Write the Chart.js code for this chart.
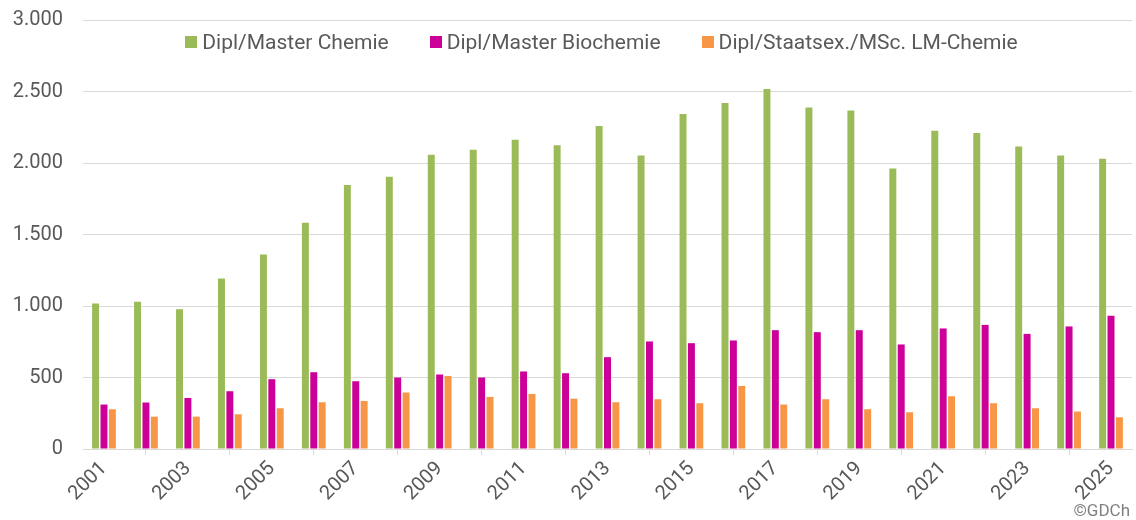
<!DOCTYPE html>
<html lang="de">
<head>
<meta charset="utf-8">
<title>Absolventen Chemie</title>
<script src="https://cdn.jsdelivr.net/npm/chart.js@4/dist/chart.umd.min.js"></script>
<style>
  html, body { margin: 0; padding: 0; background: #fff; }
  body { font-family: Roboto, "Noto Sans", sans-serif; color: #595959; }
  .wrap { position: relative; width: 1136px; height: 520px; }
  .legend {
    position: absolute; top: 29px; left: 77px; width: 1049px;
    display: flex; justify-content: center; gap: 41px;
    font-size: 21px; line-height: 26px; pointer-events: none;
  }
  .legend span.item { display: flex; align-items: center; white-space: nowrap; }
  .legend i { display: inline-block; width: 12px; height: 12px; margin-right: 5px; }
  .copy { position: absolute; right: 6px; bottom: 1px; font-size: 17px; line-height: 17px; color: #808080; }
</style>
</head>
<body>
<div class="wrap">
  <canvas id="chart"></canvas>
  <div class="legend" id="legend"></div>
  <div class="copy">©GDCh</div>
</div>
<script>
/* ---------- data ---------- */
const years = [
  '2001','2002','2003','2004','2005','2006','2007','2008','2009','2010',
  '2011','2012','2013','2014','2015','2016','2017','2018','2019','2020',
  '2021','2022','2023','2024','2025'
];

const chemie = [
  1018, 1030, 978, 1193, 1361, 1583, 1847, 1903, 2057, 2092,
  2162, 2124, 2258, 2052, 2342, 2419, 2517, 2388, 2367, 1961,
  2225, 2209, 2115, 2052, 2029
];

const biochemie = [
  311, 325, 357, 404, 488, 537, 474, 500, 521, 500,
  542, 530, 642, 752, 740, 759, 831, 817, 831, 731,
  843, 868, 805, 857, 932
];

const lmChemie = [
  278, 226, 226, 243, 285, 327, 336, 395, 511, 364,
  385, 352, 327, 348, 320, 441, 311, 348, 278, 257,
  369, 320, 285, 262, 222
];

const seriesNames = ['Dipl/Master Chemie', 'Dipl/Master Biochemie', 'Dipl/Staatsex./MSc. LM-Chemie'];
const seriesColors = ['#9BBB59', '#CC0099', '#F79646'];
const yTicks = [0, 500, 1000, 1500, 2000, 2500, 3000];

// German thousands separator
const fmt = v => String(v).replace(/\B(?=(\d{3})+(?!\d))/g, '.');

const TEXT = '#595959';
const GRID = '#D9D9D9';
const FONT = { family: 'Roboto', size: 20 };

const ctx = document.getElementById('chart').getContext('2d');
const chart = new Chart(ctx, {
  type: 'bar',
  data: {
    labels: years,
    datasets: [chemie, biochemie, lmChemie].map((d, i) => ({
      label: seriesNames[i],
      data: d,
      backgroundColor: seriesColors[i],
      borderWidth: 0,
      categoryPercentage: 0.6,
      barPercentage: 0.83,
    }))
  },
  options: {
    responsive: true,
    maintainAspectRatio: false,
    animation: false,
    layout: { padding: { top: 20, right: 4, left: 10, bottom: 8 } },
    plugins: {
      legend: { display: false },
      tooltip: { enabled: false }
    },
    scales: {
      x: {
        offset: true,
        grid: {
          offset: true,
          drawOnChartArea: false,
          drawTicks: true,
          tickLength: 6,
          color: GRID,
        },
        border: { color: GRID },
        // fixed axis box; rotated labels may hang past the plot edges
        afterFit: axis => {
          axis.height = 63;
          axis.paddingLeft = 0;
          axis.paddingRight = 0;
        },
        ticks: {
          autoSkip: false,
          maxRotation: 45,
          minRotation: 45,
          color: TEXT,
          font: FONT,
          padding: 2,
          callback: (v, i) => (i % 2 === 0 ? years[i] : null)
        }
      },
      y: {
        min: yTicks[0],
        max: yTicks[yTicks.length - 1],
        afterBuildTicks: axis => { axis.ticks = yTicks.map(v => ({ value: v })); },
        afterFit: axis => {
          axis.width = 73;
          axis.paddingTop = 0;
          axis.paddingBottom = 0;
        },
        grid: { color: GRID, drawTicks: false },
        border: { display: false },
        ticks: {
          color: TEXT,
          font: FONT,
          padding: 20,
          callback: v => fmt(v)
        }
      }
    }
  }
});

// HTML legend built from the datasets
document.getElementById('legend').innerHTML = chart.data.datasets.map(ds =>
  `<span class="item"><i style="background:${ds.backgroundColor}"></i>${ds.label}</span>`
).join('');
</script>
</body>
</html>
